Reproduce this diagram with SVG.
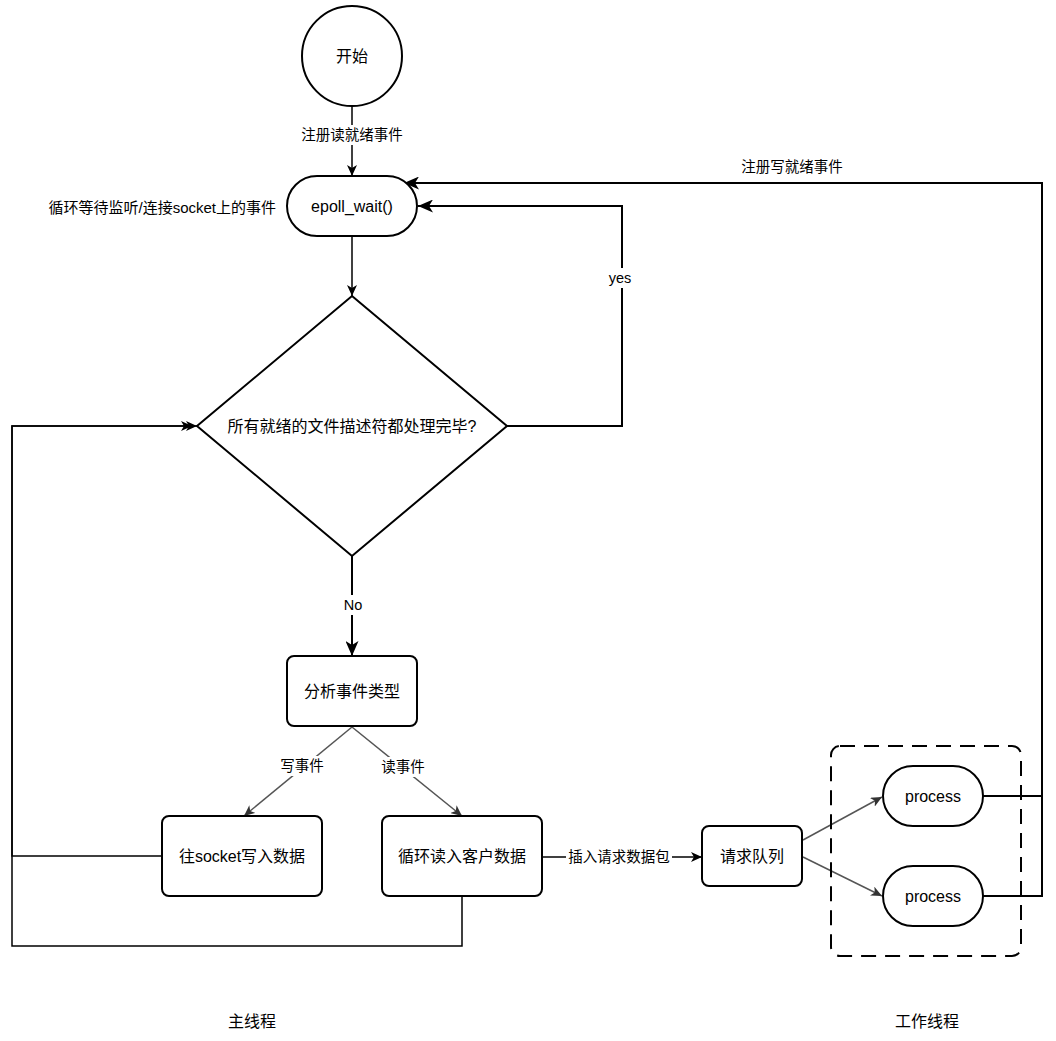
<svg xmlns="http://www.w3.org/2000/svg" width="1056" height="1041" viewBox="0 0 1056 1041">
<style>
.n{fill:#fff;stroke:#000;stroke-width:2}
.t{font-family:"Liberation Sans","Noto Sans CJK SC",sans-serif;font-size:16px;fill:#000;text-anchor:middle;dominant-baseline:central}
.l{font-family:"Liberation Sans","Noto Sans CJK SC",sans-serif;font-size:14.5px;fill:#000;text-anchor:middle;dominant-baseline:central}
.e{fill:none;stroke:#000;stroke-width:1.5}
.w{fill:none;stroke:#000;stroke-width:2}
.g{fill:none;stroke:#555;stroke-width:1.5}
.bg{fill:#fff}
</style>
<defs>
<marker id="a" markerUnits="userSpaceOnUse" markerWidth="12" markerHeight="10" refX="11" refY="5" orient="auto" viewBox="0 0 12 10">
<path d="M0,0 L11,5 L0,10 L3,5 Z" fill="#000"/>
</marker>
<marker id="ag" markerUnits="userSpaceOnUse" markerWidth="12" markerHeight="10" refX="11" refY="5" orient="auto" viewBox="0 0 12 10">
<path d="M0,0 L11,5 L0,10 L3,5 Z" fill="#333"/>
</marker>
<marker id="ab" markerUnits="userSpaceOnUse" markerWidth="16" markerHeight="13" refX="15" refY="6.5" orient="auto" viewBox="0 0 16 13">
<path d="M0,0 L15,6.5 L0,13 L4,6.5 Z" fill="#000"/>
</marker>
</defs>
<g id="connectors">
<path class="e" d="M352,106 V176" marker-end="url(#a)"/>
<path class="e" d="M352,236 V296" marker-end="url(#a)"/>
<path class="w" d="M507,426 H622 V206 H418" marker-end="url(#ab)"/>
<path class="w" d="M983,796 H1042 M983,896 H1042 V183 H404" marker-end="url(#ab)"/>
<path class="w" d="M352,556 V656" marker-end="url(#ab)"/>
<path class="g" d="M352,727 L244,816" marker-end="url(#ag)"/>
<path class="g" d="M352,727 L462,816" marker-end="url(#ag)"/>
<path class="e" d="M162,856 H12 V426 H197" marker-end="url(#a)"/>
<path class="e" d="M462,896 V946 H12 V426 H192" marker-end="url(#a)"/>
<path class="e" d="M542,857 H702" marker-end="url(#a)"/>
<path class="g" d="M803,840 L882,797" marker-end="url(#ag)"/>
<path class="g" d="M803,857 L882,896" marker-end="url(#ag)"/>
<rect class="bg" x="298" y="125" width="110" height="20"/>
<text class="l" x="352" y="135">注册读就绪事件</text>
<rect class="bg" x="607" y="268" width="28" height="20"/>
<text class="l" x="620" y="278">yes</text>
<text class="l" x="792" y="167">注册写就绪事件</text>
<rect class="bg" x="340" y="595" width="26" height="20"/>
<text class="l" x="353" y="605">No</text>
<rect class="bg" x="278" y="756" width="48" height="20"/>
<text class="l" x="302" y="766">写事件</text>
<rect class="bg" x="379" y="757" width="48" height="20"/>
<text class="l" x="403" y="767">读事件</text>
<rect class="bg" x="566" y="847" width="106" height="20"/>
<text class="l" x="619" y="857">插入请求数据包</text>
</g>
<g id="start">
<circle class="n" cx="352" cy="56" r="50"/>
<text class="t" x="352" y="56">开始</text>
</g>
<g id="epoll">
<rect class="n" x="287" y="176" width="130" height="60" rx="30"/>
<text class="t" x="352" y="206">epoll_wait()</text>
</g>
<g id="epoll-note">
<text class="l" x="276" y="207" style="text-anchor:end;font-size:15px">循环等待监听/连接socket上的事件</text>
</g>
<g id="decision">
<path class="n" d="M352,296 L507,426 L352,556 L197,426 Z"/>
<text class="t" x="352" y="426">所有就绪的文件描述符都处理完毕?</text>
</g>
<g id="analyze">
<rect class="n" x="287" y="656" width="130" height="70" rx="7"/>
<text class="t" x="352" y="691">分析事件类型</text>
</g>
<g id="write">
<rect class="n" x="162" y="816" width="160" height="80" rx="7"/>
<text class="t" x="242" y="856">往socket写入数据</text>
</g>
<g id="read">
<rect class="n" x="382" y="816" width="160" height="80" rx="7"/>
<text class="t" x="462" y="856">循环读入客户数据</text>
</g>
<g id="queue">
<rect class="n" x="702" y="826" width="100" height="60" rx="7"/>
<text class="t" x="752" y="856">请求队列</text>
</g>
<g id="worker-group">
<rect x="831" y="746" width="190" height="210" rx="9" fill="none" stroke="#000" stroke-width="2" stroke-dasharray="15 9"/>
</g>
<g id="process1">
<rect class="n" x="883" y="766" width="100" height="60" rx="30"/>
<text class="t" x="933" y="796">process</text>
</g>
<g id="process2">
<rect class="n" x="883" y="866" width="100" height="60" rx="30"/>
<text class="t" x="933" y="896">process</text>
</g>
<g id="labels">
<text class="t" x="252" y="1021">主线程</text>
<text class="t" x="927" y="1021">工作线程</text>
</g>
</svg>
